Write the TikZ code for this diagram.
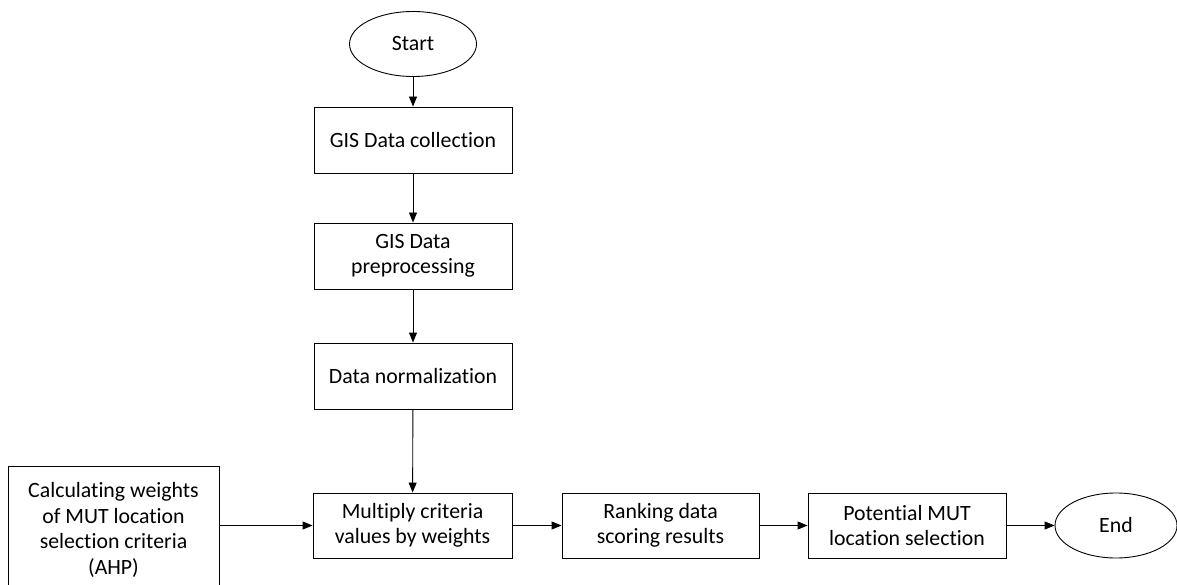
\documentclass[tikz,border=0pt]{standalone}
\usepackage{fontspec}
\setmainfont{Carlito}[Ligatures=NoCommon]
\usetikzlibrary{arrows.meta,shapes.geometric}
\begin{document}
\begin{tikzpicture}[x=1pt,y=-1pt,
  every node/.style={font=\fontsize{21.8}{25.5}\selectfont, inner sep=0pt, align=center},
  stepbox/.style={draw, line width=0.9pt, minimum width=198pt, minimum height=66pt},
  term/.style={draw, ellipse, line width=0.9pt},
  flow/.style={draw, line width=0.9pt, -{Triangle[length=10pt,width=8pt]}}]
\useasboundingbox (0,0) rectangle (1177,585);
\clip (0,0) rectangle (1177,585);
\node[term, minimum width=127pt, minimum height=65pt] (start) at (413,44) {Start};
\node[stepbox] (collect) at (413,140) {GIS Data collection};
\node[stepbox] (prep) at (413,256) {GIS Data\\preprocessing};
\node[stepbox] (norm) at (413,376) {Data normalization};
\node[stepbox, minimum width=199pt, minimum height=65pt] (mult) at (412.5,525.5) {Multiply criteria\\values by weights};
\node[stepbox, minimum width=197pt, minimum height=65pt] (rank) at (660.5,525.5) {Ranking data\\scoring results};
\node[stepbox, minimum width=198pt, minimum height=65pt] (pot) at (907,525.5) {Potential MUT\\location selection};
\node[term, minimum width=122pt, minimum height=65pt] (end) at (1116,525.5) {End};
\node[draw, line width=0.9pt, minimum width=211pt, minimum height=128pt] (ahp) at (113.5,530) {Calculating weights\\of MUT location\\selection criteria\\(AHP)};
\draw[flow] (start) -- (collect);
\draw[flow] (collect) -- (prep);
\draw[flow] (prep) -- (norm);
\draw[flow] (norm) -- (mult);
\draw[flow] (ahp.east |- mult) -- (mult);
\draw[flow] (mult) -- (rank);
\draw[flow] (rank) -- (pot);
\draw[flow] (pot) -- (end);
\end{tikzpicture}
\end{document}
